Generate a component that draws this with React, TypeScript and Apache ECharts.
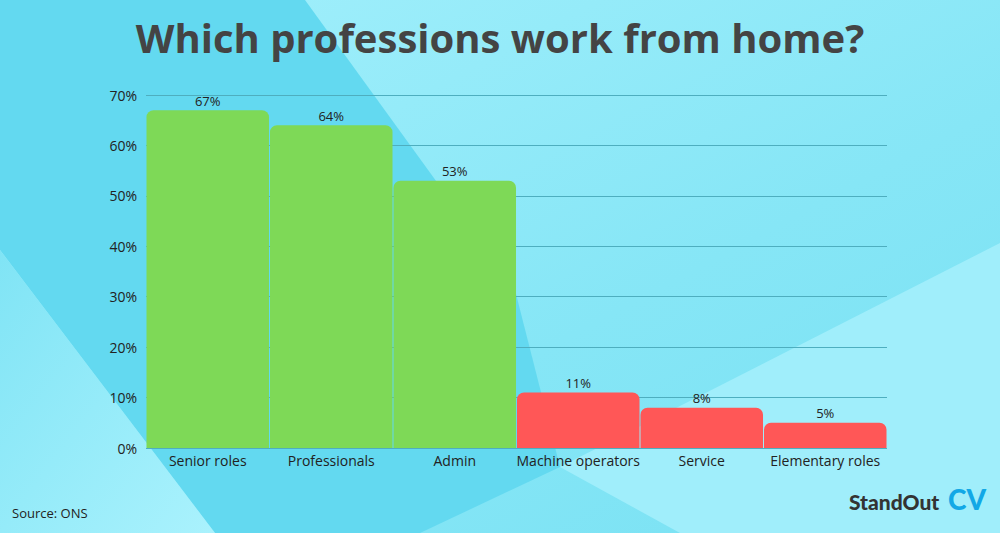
import React, { useEffect, useRef } from "react";
import * as echarts from "echarts";

const categories = ["Senior roles", "Professionals", "Admin", "Machine operators", "Service", "Elementary roles"];
const values = [67, 64, 53, 11, 8, 5];
const barColors = ["#7ED957", "#7ED957", "#7ED957", "#FF5757", "#FF5757", "#FF5757"];
const yTicks = [0, 10, 20, 30, 40, 50, 60, 70];

export default function App() {
  const ref = useRef<HTMLDivElement>(null);
  useEffect(() => {
    if (!ref.current) return;
    const chart = echarts.init(ref.current, undefined, { renderer: "svg" });
    const font = "'Open Sans', sans-serif";
    chart.setOption({
      animation: false,
      backgroundColor: {
        type: "linear", x: 0, y: 0, x2: 1, y2: 1,
        colorStops: [
          { offset: 0, color: "#a4f0fc" },
          { offset: 0.6, color: "#86e6f6" },
          { offset: 1, color: "#78e1f3" },
        ],
      },
      title: {
        text: "Which professions work from home?",
        left: "center",
        top: 12,
        textStyle: { fontFamily: font, fontSize: 40, fontWeight: 700, color: "#444444" },
      },
      graphic: [
        {
          type: "polygon", z: -10, silent: true,
          shape: { points: [[0, 0], [305, 0], [515, 290], [560, 467], [420, 533], [215, 533], [0, 250]] },
          style: { fill: "#63d9f0" },
        },
        {
          type: "polygon", z: -10, silent: true,
          shape: { points: [[0, 250], [215, 533], [0, 533]] },
          style: {
            fill: {
              type: "linear", x: 0, y: 0, x2: 1, y2: 1,
              colorStops: [{ offset: 0, color: "#80e4f5" }, { offset: 1, color: "#aaf2fd" }],
            },
          },
        },
        {
          type: "polygon", z: -10, silent: true,
          shape: { points: [[1000, 243], [1000, 533], [680, 533], [560, 467]] },
          style: { fill: "#a0eefb" },
        },
        {
          type: "text", left: 12, top: 506, silent: true,
          style: { text: "Source: ONS", fontFamily: font, fontSize: 13, fill: "#222222" },
        },
        {
          type: "text", left: 849, top: 491, silent: true,
          style: { text: "StandOut", fontFamily: "Lato, sans-serif", fontSize: 21, fontWeight: 900, fill: "#333333" },
        },
        {
          type: "text", left: 948, top: 485, silent: true,
          style: { text: "CV", fontFamily: "Lato, sans-serif", fontSize: 28, fontWeight: 900, fill: "#12a8e6" },
        },
      ],
      grid: { left: 146, right: 113, top: 95, bottom: 85, containLabel: false },
      xAxis: {
        type: "category",
        data: categories,
        axisLine: { show: false },
        axisTick: { show: false },
        axisLabel: { margin: 5, fontFamily: font, fontSize: 14, color: "#222222", interval: 0 },
      },
      yAxis: {
        type: "value",
        min: yTicks[0],
        max: yTicks[yTicks.length - 1],
        interval: 10,
        axisLine: { show: false },
        axisTick: { show: false },
        axisLabel: { margin: 9, fontFamily: font, fontSize: 14, color: "#222222", formatter: "{value}%" },
        splitLine: { lineStyle: { color: "#4eaebf", width: 1 } },
      },
      series: [
        {
          type: "bar",
          barCategoryGap: "0.8%",
          data: values.map((v, i) => ({ value: v, itemStyle: { color: barColors[i] } })),
          itemStyle: { borderRadius: [7, 7, 0, 0] },
          label: {
            show: true, position: "top", distance: 3, formatter: "{c}%",
            fontFamily: font, fontSize: 13, color: "#222222",
          },
        },
      ],
    });
    return () => chart.dispose();
  }, []);
  return <div ref={ref} style={{ position: "fixed", left: 0, top: 0, width: 1000, height: 533 }} />;
}
